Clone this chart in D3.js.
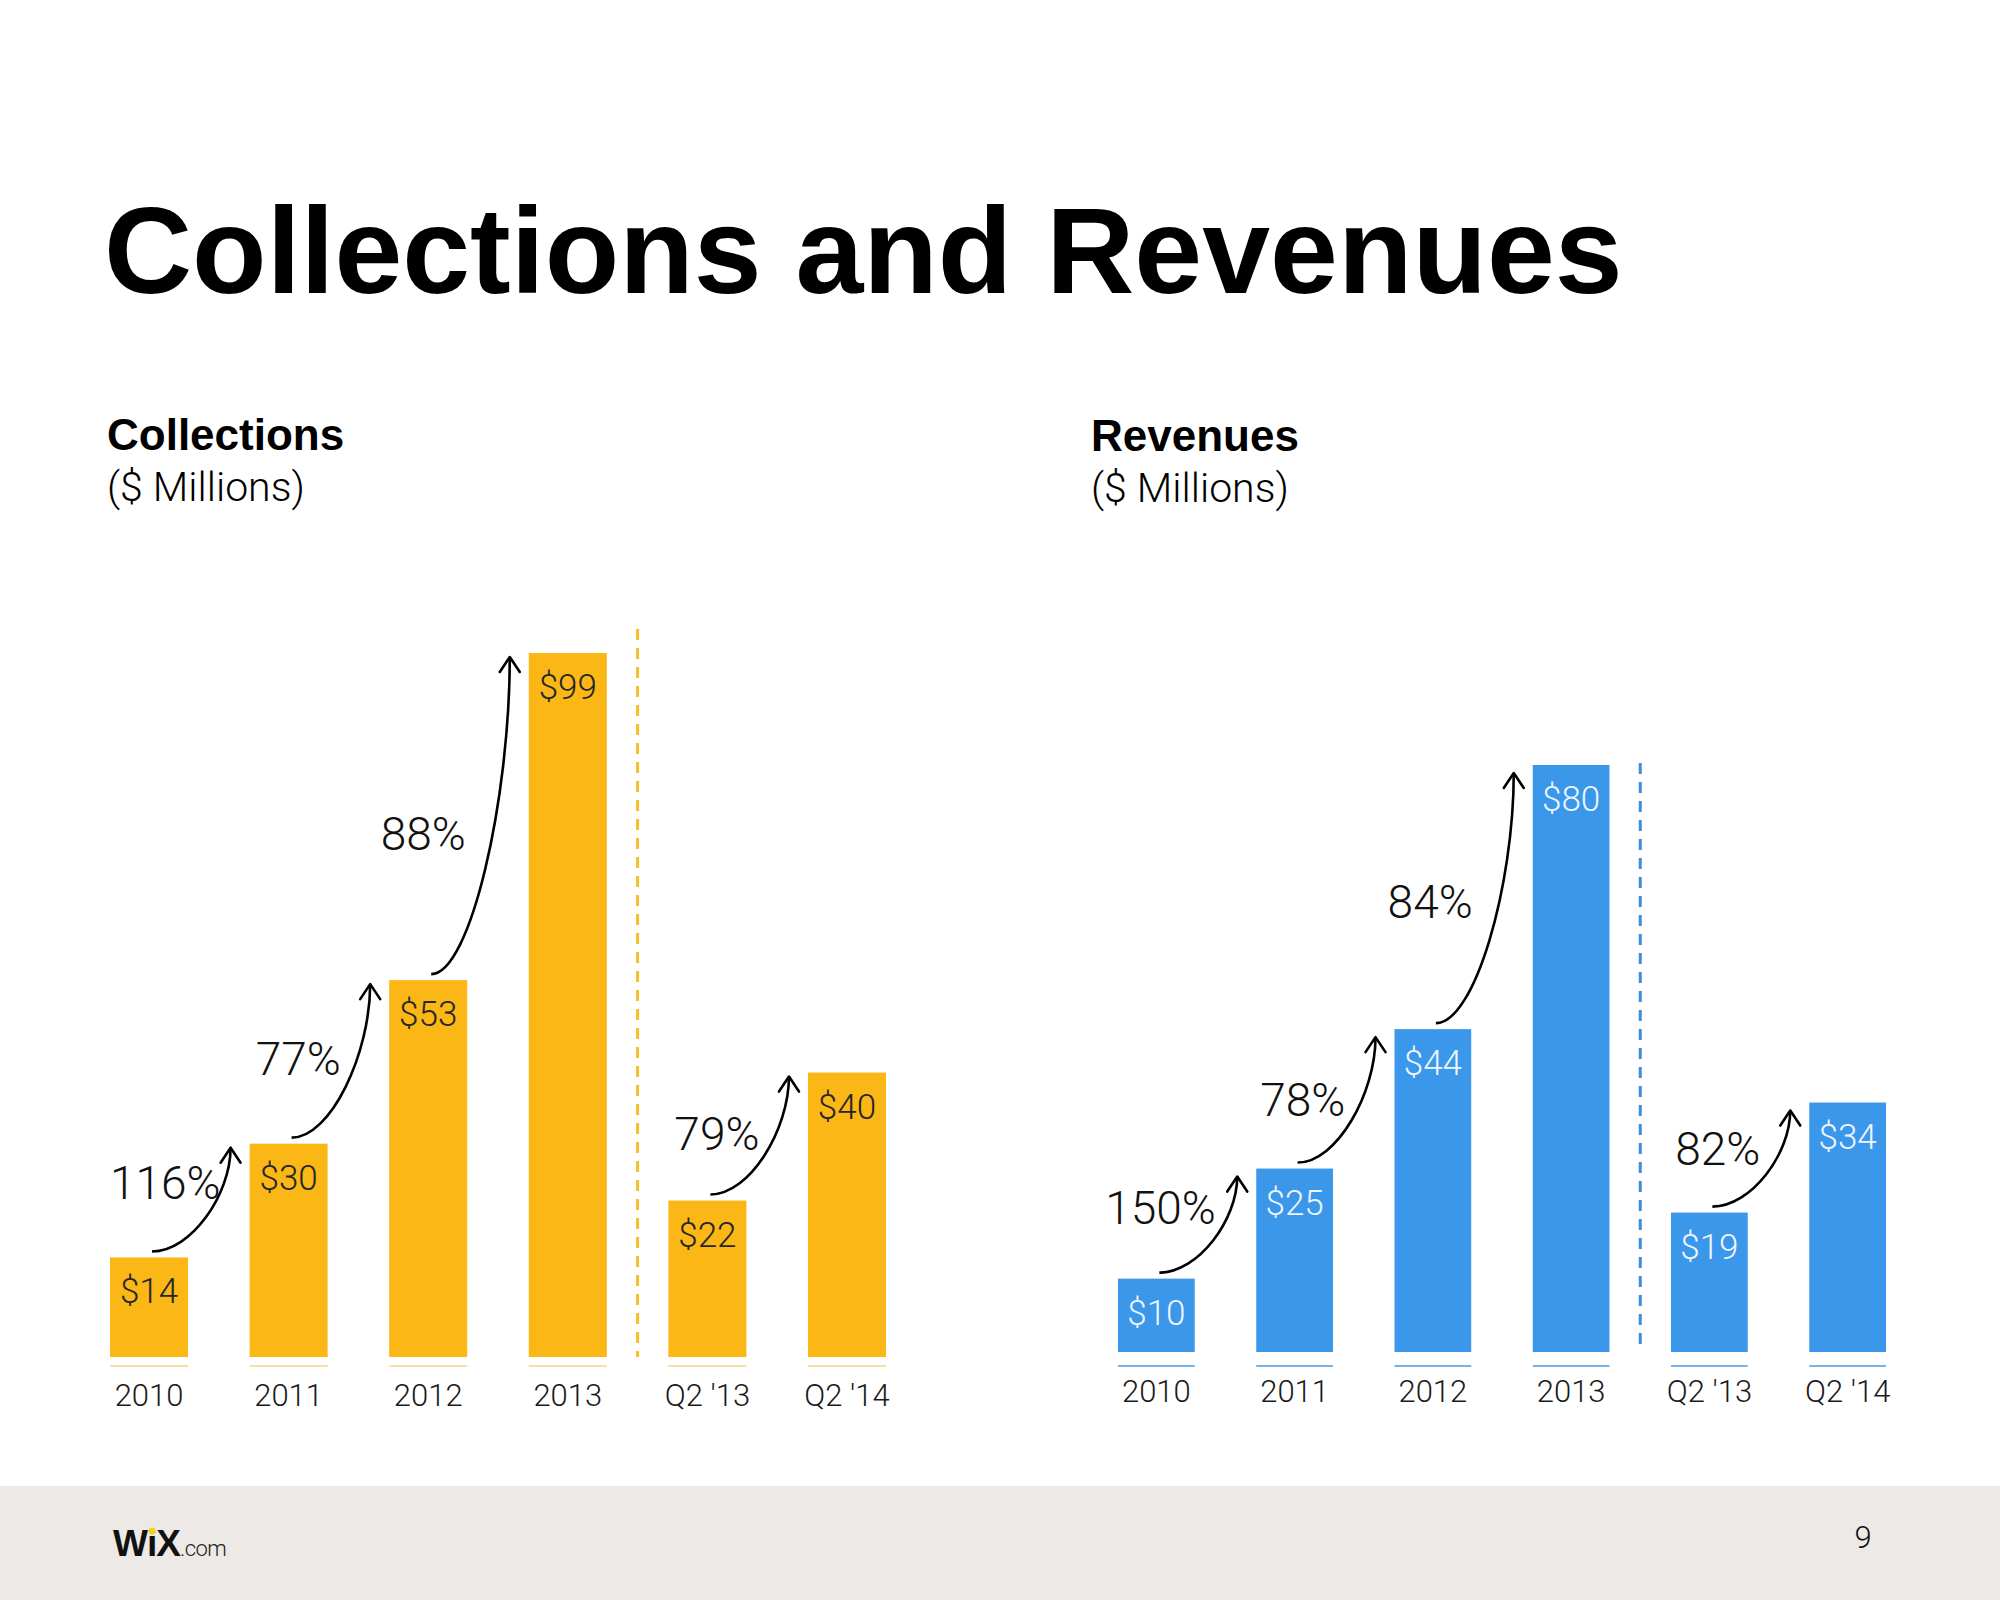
<!DOCTYPE html>
<html>
<head>
<meta charset="utf-8">
<script src="https://cdn.jsdelivr.net/npm/d3@7"></script>
<style>
  html, body { margin: 0; padding: 0; background: #fff; }
  svg { display: block; }
</style>
</head>
<body>
<svg id="chart" width="2000" height="1600"></svg>
<script>
// ---------- data ----------
const categories = ["2010", "2011", "2012", "2013", "Q2 '13", "Q2 '14"];
const collectionsValues = [14, 30, 53, 99, 22, 40];
const revenueValues = [10, 25, 44, 80, 19, 34];
const collectionsGrowth = ["116%", "77%", "88%", "79%"];
const revenueGrowth = ["150%", "78%", "84%", "82%"];
const growthPairs = [[0, 1], [1, 2], [2, 3], [4, 5]];
const valueLabels = v => "$" + v;

// ---------- layout ----------
const svg = d3.select("#chart");
const LIGHT = "Roboto, 'Liberation Sans', Arial, sans-serif";
const BOLD = "'Liberation Sans', Arial, Helvetica, sans-serif";
// fraction of each arrow's rise at which its growth label sits
const labelRise = [0.52, 0.42, 0.41, 0.45];

svg.append("rect").attr("x", 0).attr("y", 0).attr("width", 2000).attr("height", 1600).attr("fill", "#fff");

// title
svg.append("text")
  .attr("x", 104).attr("y", 293)
  .attr("font-family", BOLD).attr("font-weight", "bold")
  .attr("font-size", 122).attr("fill", "#000")
  .text("Collections and Revenues");

// arrow marker
const defs = svg.append("defs");
defs.append("marker")
  .attr("id", "arrowhead")
  .attr("markerUnits", "userSpaceOnUse")
  .attr("viewBox", "-20 -14 24 28")
  .attr("refX", 0).attr("refY", 0)
  .attr("markerWidth", 24).attr("markerHeight", 28)
  .attr("orient", "auto")
  .append("path")
  .attr("d", "M-15,-10 L0,0 L-15,10")
  .attr("fill", "none").attr("stroke", "#000")
  .attr("stroke-width", 2.6).attr("stroke-linecap", "round").attr("stroke-linejoin", "round");

function panel(cfg) {
  const g = svg.append("g");
  const x = d3.scaleBand().domain(categories).range(cfg.xRange)
    .paddingInner(cfg.padInner).paddingOuter(0);
  const y = d3.scaleLinear().domain([0, d3.max(cfg.values)]).range(cfg.yRange);
  const bw = x.bandwidth();
  const data = categories.map((c, i) => ({ c, v: cfg.values[i] }));

  // headings
  g.append("text").attr("x", cfg.headX).attr("y", cfg.headY)
    .attr("font-family", BOLD).attr("font-weight", "bold").attr("font-size", 44)
    .attr("fill", "#000").text(cfg.heading);
  g.append("text").attr("x", cfg.headX).attr("y", cfg.headY + 51)
    .attr("font-family", LIGHT).attr("font-weight", 300).attr("font-size", 41)
    .attr("fill", "#000").text("($ Millions)");

  // bars
  g.selectAll("rect.bar").data(data).join("rect")
    .attr("class", "bar")
    .attr("x", d => x(d.c)).attr("width", bw)
    .attr("y", d => y(d.v)).attr("height", d => y(0) - y(d.v))
    .attr("fill", cfg.color);

  // underline strokes
  g.selectAll("line.under").data(data).join("line")
    .attr("class", "under")
    .attr("x1", d => x(d.c)).attr("x2", d => x(d.c) + bw)
    .attr("y1", cfg.underY).attr("y2", cfg.underY)
    .attr("stroke", cfg.underColor).attr("stroke-width", 1.6);

  // value labels
  g.selectAll("text.val").data(data).join("text")
    .attr("class", "val")
    .attr("x", d => x(d.c) + bw / 2).attr("y", d => y(d.v) + 46)
    .attr("text-anchor", "middle")
    .attr("font-family", LIGHT).attr("font-weight", 300).attr("font-size", 35)
    .attr("fill", cfg.valColor).text(d => valueLabels(d.v));

  // category labels
  g.selectAll("text.cat").data(data).join("text")
    .attr("class", "cat")
    .attr("x", d => x(d.c) + bw / 2).attr("y", cfg.catY)
    .attr("text-anchor", "middle")
    .attr("font-family", LIGHT).attr("font-weight", 300).attr("font-size", 31)
    .attr("fill", "#1a1a1a").text(d => d.c);

  // dashed divider between annual and quarterly
  const divX = (x(categories[3]) + bw + x(categories[4])) / 2;
  g.append("line")
    .attr("x1", divX).attr("x2", divX)
    .attr("y1", y(d3.max(cfg.values)) - cfg.divOver).attr("y2", y(0))
    .attr("stroke", cfg.dashColor).attr("stroke-width", 3)
    .attr("stroke-dasharray", "11,8");

  // growth arrows + labels
  const bez = (t, p0, p1, p2, p3) => {
    const u = 1 - t;
    return u * u * u * p0 + 3 * u * u * t * p1 + 3 * u * t * t * p2 + t * t * t * p3;
  };
  growthPairs.forEach(([a, b], k) => {
    const S = [x(categories[a]) + bw / 2 + 3, y(cfg.values[a]) - 6];
    const T = [x(categories[b]) - 19, y(cfg.values[b]) + cfg.tipDrop];
    const dx = T[0] - S[0], dy = S[1] - T[1];
    const C1 = [S[0] + 0.5 * dx, S[1]];
    const C2 = [T[0], S[1] - 0.55 * dy];
    g.append("path")
      .attr("d", `M${S[0]},${S[1]} C${C1[0]},${C1[1]} ${C2[0]},${C2[1]} ${T[0]},${T[1]}`)
      .attr("fill", "none").attr("stroke", "#000").attr("stroke-width", 2.6)
      .attr("marker-end", "url(#arrowhead)");

    const base = S[1] - labelRise[k] * dy;
    const mid = base - 16;
    let best = 0, bestErr = 1e9;
    for (let t = 0; t <= 1.0001; t += 0.005) {
      const err = Math.abs(bez(t, S[1], C1[1], C2[1], T[1]) - mid);
      if (err < bestErr) { bestErr = err; best = t; }
    }
    const cx = bez(best, S[0], C1[0], C2[0], T[0]);
    g.append("text")
      .attr("x", cx - 14 + cfg.nudgeX[k]).attr("y", base + cfg.nudgeY[k])
      .attr("text-anchor", "end")
      .attr("font-family", LIGHT).attr("font-weight", 300).attr("font-size", 46)
      .attr("fill", "#111").text(cfg.growth[k]);
  });
}

panel({
  heading: "Collections", headX: 107, headY: 450,
  values: collectionsValues, growth: collectionsGrowth,
  xRange: [110, 886], padInner: 0.441, yRange: [1357, 653],
  color: "#FAB716", underColor: "#F7D488", underY: 1366,
  valColor: "#262626", dashColor: "#F8BC2E", divOver: 24, catY: 1406, tipDrop: 4,
  nudgeX: [10, -3, -14, -6], nudgeY: [2, 2, 6, 9]
});

panel({
  heading: "Revenues", headX: 1091, headY: 451,
  values: revenueValues, growth: revenueGrowth,
  xRange: [1118, 1886], padInner: 0.445, yRange: [1352, 765],
  color: "#3A97EA", underColor: "#4A98E2", underY: 1366,
  valColor: "#EEF5FF", dashColor: "#3D8DDC", divOver: 2, catY: 1402, tipDrop: 8,
  nudgeX: [-2, -5, -12, -8], nudgeY: [1, 6, -3, 2]
});

// footer
svg.append("rect").attr("x", 0).attr("y", 1486).attr("width", 2000).attr("height", 114).attr("fill", "#ECE9E6");
svg.append("text").attr("x", 1863).attr("y", 1548).attr("text-anchor", "middle")
  .attr("font-family", LIGHT).attr("font-weight", 300).attr("font-size", 31)
  .attr("fill", "#111").text("9");

// logo
const logo = svg.append("g");
let lx = 113;
const parts = ["W", "\u0131", "X"];
let iPos = null;
parts.forEach(t => {
  const el = logo.append("text").attr("x", lx).attr("y", 1556)
    .attr("font-family", BOLD).attr("font-weight", "bold").attr("font-size", 37)
    .attr("fill", "#111").text(t);
  const wdt = el.node().getComputedTextLength();
  if (t === "\u0131") iPos = lx + wdt / 2;
  lx += wdt - 1;
});
logo.append("circle").attr("cx", iPos).attr("cy", 1531).attr("r", 3.6).attr("fill", "#F2D31B");
logo.append("text").attr("x", lx).attr("y", 1556)
  .attr("font-family", LIGHT).attr("font-weight", 300).attr("font-size", 22)
  .attr("letter-spacing", -0.5)
  .attr("fill", "#222").text(".com");
</script>
</body>
</html>
